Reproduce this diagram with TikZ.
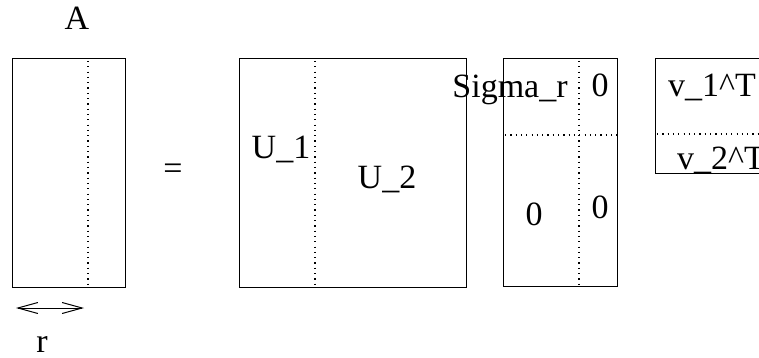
\documentclass[tikz,border=0pt]{standalone}
\usepackage{fontspec}
\setmainfont{Liberation Serif}
\usetikzlibrary{arrows.meta}
\begin{document}
\begin{tikzpicture}[x=1pt,y=-1pt,
  box/.style={draw=black,line width=1pt},
  dotline/.style={draw=black,line width=1.2pt,dash pattern=on 1.2pt off 4.1pt},
  lbl/.style={inner sep=0pt,anchor=base,font=\fontsize{34}{39}\selectfont}]
\useasboundingbox (0,0) rectangle (759,358);
% A matrix
\draw[box] (12,59) rectangle (125,287);
\coordinate (at) at (88,61);
\coordinate (ab) at (88,287);
\draw[dotline] (at) -- (ab);
\node[lbl] (lA) at (77,30) {A};
\coordinate (r1) at (16,308);
\coordinate (r2) at (84,308);
\draw[line width=1pt,{Straight Barb[length=20pt,width=11pt,line width=1pt]}-{Straight Barb[length=20pt,width=11pt,line width=1pt]}] (r1) -- (r2);
\node[lbl] (lr) at (42,352) {r};
\node[lbl,anchor=center] (eq) at (173,172) {=};
% U matrix
\draw[box] (239,59) rectangle (466,287);
\coordinate (ut) at (315,61);
\coordinate (ub) at (315,287);
\draw[dotline] (ut) -- (ub);
\node[lbl] (u1) at (281,158) {U\_1};
\node[lbl] (u2) at (387,188) {U\_2};
% Sigma matrix
\draw[box] (503,59) rectangle (617,286);
\coordinate (st) at (579,61);
\coordinate (sb) at (579,286);
\coordinate (sl) at (505,135);
\coordinate (sr) at (617,135);
\draw[dotline] (st) -- (sb);
\draw[dotline] (sl) -- (sr);
\node[lbl] (sig) at (510,98) {Sigma\_r};
\node[lbl] (z1) at (600,97) {0};
\node[lbl] (z2) at (534,225) {0};
\node[lbl] (z3) at (600,218) {0};
% V matrix
\draw[box] (655,59) rectangle (800,173);
\coordinate (vl) at (657,134);
\coordinate (vr) at (800,134);
\draw[dotline] (vl) -- (vr);
\node[lbl] (v1) at (712,97) {v\_1\^{}T};
\node[lbl] (v2) at (721,169) {v\_2\^{}T};
\end{tikzpicture}
\end{document}
